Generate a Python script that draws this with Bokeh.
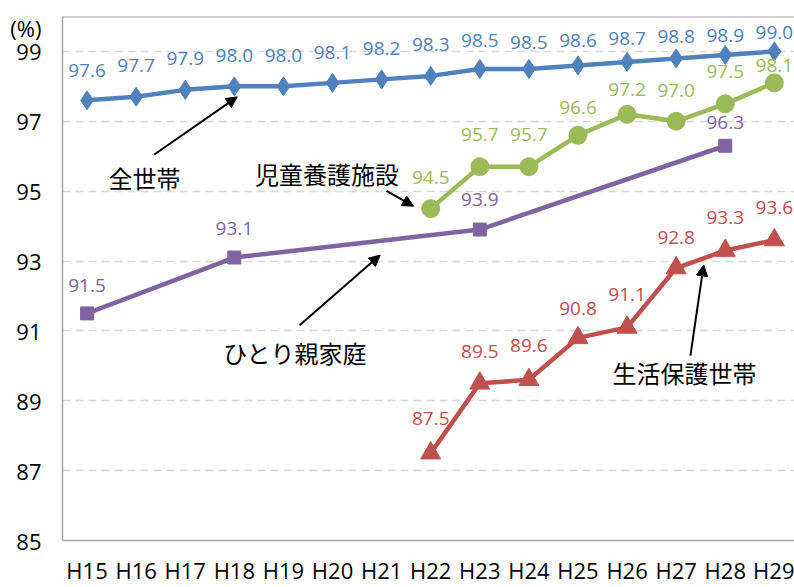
from bokeh.plotting import figure
from bokeh.models import Range1d, Span, Label, Arrow, NormalHead, ColumnDataSource, FixedTicker
from bokeh.core.properties import value
from bokeh.embed import file_html
from bokeh.resources import INLINE

# ---- data ----
years = ["H15", "H16", "H17", "H18", "H19", "H20", "H21", "H22",
         "H23", "H24", "H25", "H26", "H27", "H28", "H29"]

all_years = years
all_vals = [97.6, 97.7, 97.9, 98.0, 98.0, 98.1, 98.2, 98.3,
            98.5, 98.5, 98.6, 98.7, 98.8, 98.9, 99.0]

child_years = ["H22", "H23", "H24", "H25", "H26", "H27", "H28", "H29"]
child_vals = [94.5, 95.7, 95.7, 96.6, 97.2, 97.0, 97.5, 98.1]

single_years = ["H15", "H18", "H23", "H28"]
single_vals = [91.5, 93.1, 93.9, 96.3]

welfare_years = ["H22", "H23", "H24", "H25", "H26", "H27", "H28", "H29"]
welfare_vals = [87.5, 89.5, 89.6, 90.8, 91.1, 92.8, 93.3, 93.6]

y_ticks = [85, 87, 89, 91, 93, 95, 97, 99]
unit_label = "(%)"

series_names = ["全世帯", "児童養護施設", "ひとり親家庭", "生活保護世帯"]

# ---- layout / style (screen-pixel offsets of the value labels above each point) ----
all_lab_off = [30, 31, 31, 31, 31, 30, 31, 31, 28, 26, 25, 23, 22, 19, 19]
child_lab_off = [31, 32, 32, 28, 25, 31, 32, 17]
single_lab_off = [28, 29, 30, 23]
welfare_lab_off = [35, 32, 34, 29, 33, 31, 33, 33]
UNIT_TICK = 99.67

p = figure(width=794, height=587, output_backend="svg", toolbar_location=None,
           x_range=Range1d(-0.5, 14.41), y_range=Range1d(85, 100),
           min_border_left=62, min_border_right=0, min_border_top=16, min_border_bottom=44)
p.outline_line_color = None
p.background_fill_color = "white"

p.xaxis.ticker = FixedTicker(ticks=list(range(len(years))))
p.xaxis.major_label_overrides = {i: y for i, y in enumerate(years)}
p.yaxis.ticker = FixedTicker(ticks=y_ticks + [UNIT_TICK])
p.yaxis.major_label_overrides = {UNIT_TICK: unit_label}
for ax in (p.xaxis, p.yaxis):
    ax.axis_line_color = "#a6a6a6"
    ax.axis_line_width = 1.5
    ax.major_tick_line_color = None
    ax.minor_tick_line_color = None
    ax.major_label_text_font = "Open Sans"
    ax.major_label_text_font_size = "22px"
    ax.major_label_text_color = "#000000"
p.xaxis.major_label_standoff = 8
p.yaxis.major_label_standoff = 15

p.xgrid.grid_line_color = None
p.ygrid.ticker = FixedTicker(ticks=y_ticks)
p.ygrid.grid_line_color = "#d9d9d9"
p.ygrid.grid_line_width = 1.5
p.ygrid.grid_line_dash = "8 5"

p.add_layout(Span(location=100, dimension="width", line_color="#a6a6a6", line_width=2))


def draw(cats, vals, offs, color, marker, size):
    xs = [years.index(c) for c in cats]
    src = ColumnDataSource(dict(x=xs, y=vals, t=[f"{v:.1f}" for v in vals],
                                off=[-o for o in offs]))
    p.line("x", "y", source=src, line_color=color, line_width=4.5)
    p.scatter("x", "y", source=src, marker=marker, size=size,
              fill_color=color, line_color=color)
    p.text("x", "y", text="t", source=src, x_offset=0, y_offset="off",
           text_align="center", text_baseline="middle",
           text_font=value("Open Sans"), text_font_size="19px", text_color=color)


draw(all_years, all_vals, all_lab_off, "#4f81bd", "diamond", 19)
draw(child_years, child_vals, child_lab_off, "#9bbb59", "circle", 18)
draw(single_years, single_vals, single_lab_off, "#8064a2", "square", 13)
draw(welfare_years, welfare_vals, welfare_lab_off, "#c0504d", "triangle", 20)

# ---- annotations ----
label_pos = [(1.17, 95.40), (4.89, 95.51), (4.24, 90.38), (12.17, 89.81)]
arrow_pos = [((1.37, 96.05), (3.06, 97.70)),
             ((6.10, 95.01), (6.65, 94.57)),
             ((4.33, 91.16), (5.97, 93.17)),
             ((12.29, 90.29), (12.56, 92.89))]

for name, (lx, ly) in zip(series_names, label_pos):
    p.add_layout(Label(x=lx, y=ly, text=name, text_align="center", text_baseline="middle",
                       text_font="Noto Sans CJK JP", text_font_size="24px",
                       text_color="#000000"))

for (s, e) in arrow_pos:
    p.add_layout(Arrow(x_start=s[0], y_start=s[1], x_end=e[0], y_end=e[1],
                       line_color="black", line_width=2,
                       end=NormalHead(size=11, fill_color="black", line_color="black")))

open("out.html", "w").write(file_html(p, INLINE))
